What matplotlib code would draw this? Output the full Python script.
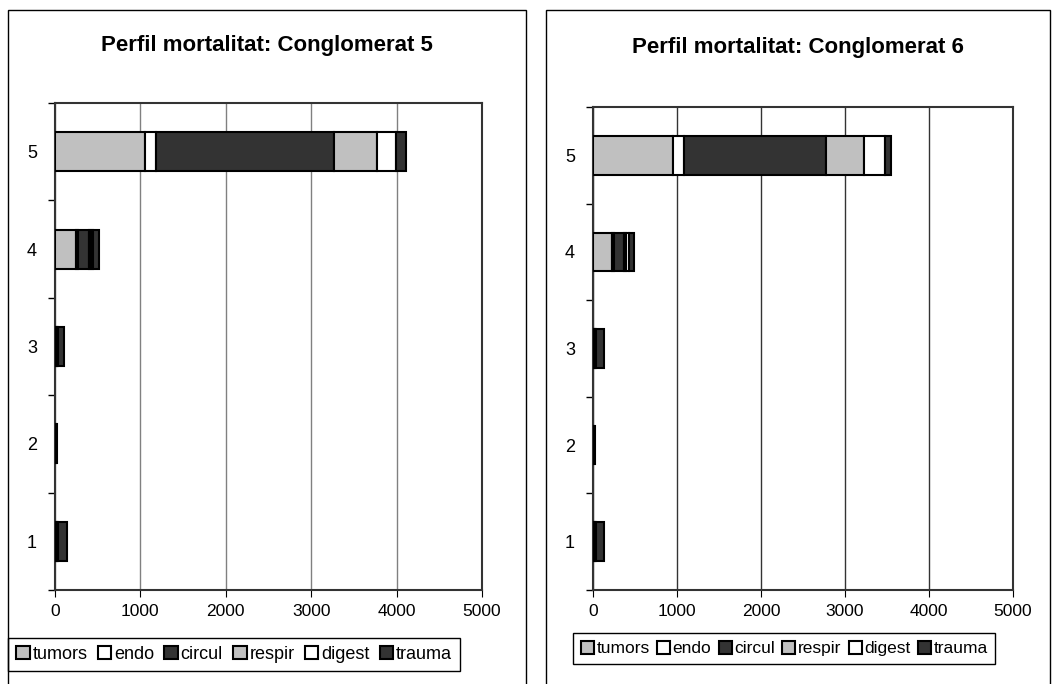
import matplotlib.pyplot as plt
import matplotlib.patches as patches
import numpy as np

plt.rcParams['font.family'] = ['Liberation Sans', 'DejaVu Sans']

categories = ['1', '2', '3', '4', '5']
series_names = ['tumors', 'endo', 'circul', 'respir', 'digest', 'trauma']
series_colors = ['#c0c0c0', '#ffffff', '#333333', '#c0c0c0', '#ffffff', '#333333']

# Conglomerat 5
c5_tumors = [10, 3, 10, 250, 1050]
c5_endo = [3, 1, 3, 20, 130]
c5_circul = [10, 3, 10, 130, 2085]
c5_respir = [10, 3, 5, 20, 500]
c5_digest = [7, 2, 5, 30, 225]
c5_trauma = [100, 8, 77, 60, 125]

# Conglomerat 6
c6_tumors = [10, 3, 10, 230, 950]
c6_endo = [3, 1, 3, 15, 130]
c6_circul = [10, 3, 10, 120, 1690]
c6_respir = [5, 2, 5, 25, 460]
c6_digest = [5, 2, 5, 40, 250]
c6_trauma = [102, 9, 97, 54, 70]

W, H = 1059, 684
fig = plt.figure(figsize=(W / 100, H / 100), dpi=100)


def px_axes(x0, y0, x1, y1):
    return fig.add_axes([x0 / W, 1 - y1 / H, (x1 - x0) / W, (y1 - y0) / H])


def draw_panel(ax, data, title, grid_color, frame, title_y, legend_pos,
               leg_size, leg_spacing):
    # outer chart frame
    fx0, fx1 = frame
    fig.patches.append(patches.Rectangle((fx0 / W, -0.1), (fx1 - fx0) / W, 1.1 - 10 / H,
                                         transform=fig.transFigure, fill=False,
                                         edgecolor='black', linewidth=1.0))
    y = np.arange(len(categories))
    left = np.zeros(len(categories))
    handles = []
    for name, col, vals in zip(series_names, series_colors, data):
        b = ax.barh(y, vals, left=left, height=0.4, color=col, edgecolor='black',
                    linewidth=1.5, label=name, zorder=3)
        left += np.array(vals)
        handles.append(b)
    ax.set_xlim(0, 5000)
    ax.set_ylim(-0.5, 4.5)
    ax.set_xticks(range(0, 5001, 1000))
    ax.set_yticks(y)
    ax.set_yticklabels(categories)
    ax.set_yticks(np.arange(-0.5, 5, 1), minor=True)
    ax.tick_params(axis='y', which='major', length=0, pad=13, labelsize=13)
    ax.tick_params(axis='y', which='minor', length=5, direction='out', width=1)
    ax.tick_params(axis='x', length=5, direction='out', labelsize=12.5, pad=5)
    ax.xaxis.grid(True, color=grid_color, linewidth=1.0, zorder=0)
    for s in ax.spines.values():
        s.set_color('#333333')
        s.set_linewidth(1.5)
    cx = (fx0 + fx1) / 2 / W
    fig.text(cx, 1 - title_y / H, title, ha='center', va='center',
             fontsize=16, fontweight='bold')
    leg = ax.legend(handles=handles, loc='upper left',
                    bbox_to_anchor=(legend_pos[0] / W, 1 - legend_pos[1] / H),
                    bbox_transform=fig.transFigure, ncol=6, fontsize=leg_size,
                    handlelength=0.75, handleheight=0.75, handletextpad=0.15,
                    columnspacing=leg_spacing, borderpad=0.45, borderaxespad=0,
                    fancybox=False, framealpha=1, edgecolor='black')
    leg.get_frame().set_linewidth(1.0)


ax1 = px_axes(55, 103, 482, 590)
draw_panel(ax1, [c5_tumors, c5_endo, c5_circul, c5_respir, c5_digest, c5_trauma],
           'Perfil mortalitat: Conglomerat 5', '#808080', (8, 526), 45, (8, 638),
           13, 0.57)

ax2 = px_axes(593, 107, 1013, 590)
draw_panel(ax2, [c6_tumors, c6_endo, c6_circul, c6_respir, c6_digest, c6_trauma],
           'Perfil mortalitat: Conglomerat 6', '#333333', (546, 1050), 48, (573, 633),
           12.5, 0.42)

fig.savefig('out.png', dpi=100)
